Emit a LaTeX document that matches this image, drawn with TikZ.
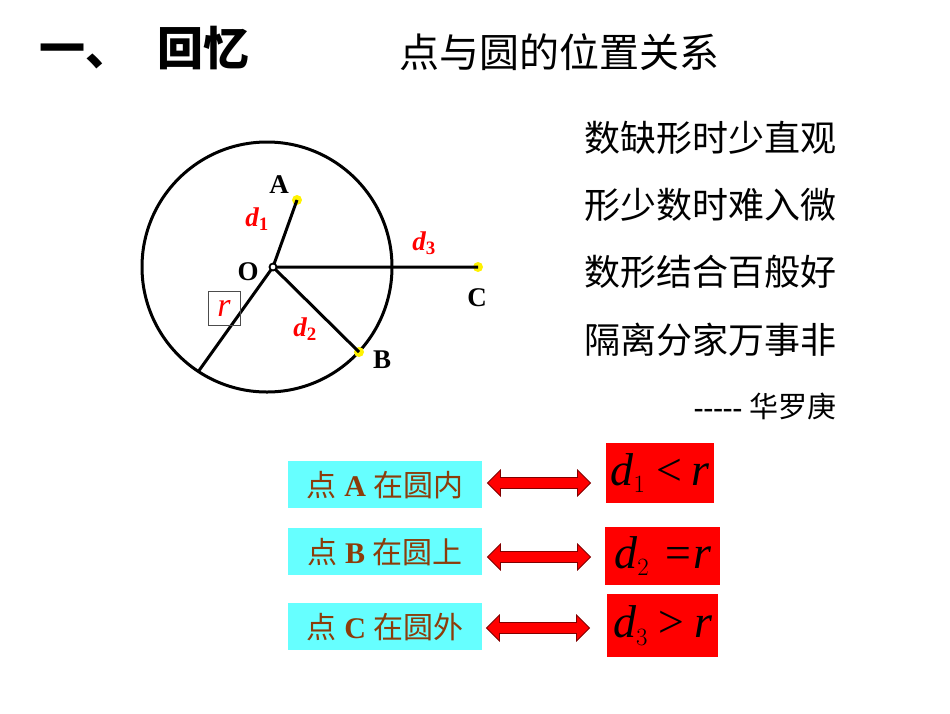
\documentclass[tikz,border=0pt]{standalone}
\usepackage{fontspec}
\setmainfont{Liberation Serif}
\newfontfamily\cjk{Noto Sans CJK SC}
\usetikzlibrary{shapes.arrows}
\definecolor{brownt}{RGB}{140,60,10}
\definecolor{cyanb}{RGB}{102,255,255}
\tikzset{
 lbl/.style={font=\bfseries\fontsize{27}{27}\selectfont},
 dlbl/.style={text=red,font=\bfseries\itshape\fontsize{27}{27}\selectfont},
 pt/.style={circle,fill=yellow,inner sep=0pt,minimum size=10pt},
 poem/.style={anchor=east,font=\cjk\fontsize{36}{36}\selectfont},
 cbox/.style={fill=cyanb,text=brownt,minimum width=194pt,minimum height=47pt,anchor=north west,inner sep=0pt,font=\fontsize{30}{30}\selectfont\bfseries},
 rbox/.style={fill=red,anchor=north west,inner sep=0pt,font=\itshape\fontsize{46}{46}\selectfont},
 dbl/.style={double arrow,fill=red,draw=red!50!black,minimum width=26pt,double arrow head extend=6pt,minimum height=103pt,inner sep=4pt,line width=0.8pt},
 geo/.style={line width=3pt},
}
\begin{document}
\begin{tikzpicture}[x=1pt,y=-1pt]
\useasboundingbox (0,0) rectangle (950,713);
\node[anchor=west,font=\cjk\bfseries\fontsize{46}{46}\selectfont] (t1) at (36,48) {一、\hspace{26pt}回忆};
\node[anchor=west,font=\cjk\fontsize{40}{40}\selectfont] (t2) at (396,52) {点与圆的位置关系};
\coordinate (O) at (273,267);
\draw[geo] (267,267) circle[radius=125];
\node[pt] (A) at (297,200) {};
\node[pt] (B) at (359,352) {};
\node[pt] (C) at (478,267) {};
\coordinate (R) at (198,372);
\draw[geo] (O) -- (A.center) (O) -- (B.center) (O) -- (C.center) (O) -- (R);
\draw[line width=1.8pt,fill=white] (O) circle[radius=3.5];
\node[lbl] (la) at (279,185) {A};
\node[lbl] (lb) at (382,360) {B};
\node[lbl] (lc) at (477,298) {C};
\node[lbl] (lo) at (248,272) {O};
\node[dlbl] (d1) at (257,219) {d$_{\mathbf 1}$};
\node[dlbl] (d2) at (305,329) {d$_{\mathbf 2}$};
\node[dlbl] (d3) at (424,243) {d$_{\mathbf 3}$};
\node[draw=black!70,line width=0.6pt,text=red,inner sep=1pt,minimum width=32pt,minimum height=34pt,font=\itshape\fontsize{34}{34}\selectfont] (rr) at (224,308) {r};
\node[poem] (p1) at (840,138) {数缺形时少直观};
\node[poem] (p2) at (840,205) {形少数时难入微};
\node[poem] (p3) at (840,272) {数形结合百般好};
\node[poem] (p4) at (840,340) {隔离分家万事非};
\node[anchor=east,font=\fontsize{29}{29}\selectfont] (au) at (840,406) {\textbf{{-}{-}{-}{-}{-}} {\cjk 华罗庚}};
\node[cbox] (b1) at (288,461) {{\cjk\mdseries 点} A {\cjk\mdseries 在圆内}};
\node[cbox] (b2) at (288,528) {{\cjk\mdseries 点} B {\cjk\mdseries 在圆上}};
\node[cbox] (b3) at (288,603) {{\cjk\mdseries 点} C {\cjk\mdseries 在圆外}};
\node[rbox,minimum width=108pt,minimum height=60pt] (r1) at (606,443) {d$_1$\,<\,r};
\node[rbox,minimum width=115pt,minimum height=58pt] (r2) at (605,527) {d$_2$\;=r};
\node[rbox,minimum width=111pt,minimum height=63pt] (r3) at (607,594) {d$_3$\,>\,r};
\node[dbl] (a1) at (539,483) {};
\node[dbl] (a2) at (539,557) {};
\node[dbl] (a3) at (538,628) {};
\end{tikzpicture}
\end{document}
